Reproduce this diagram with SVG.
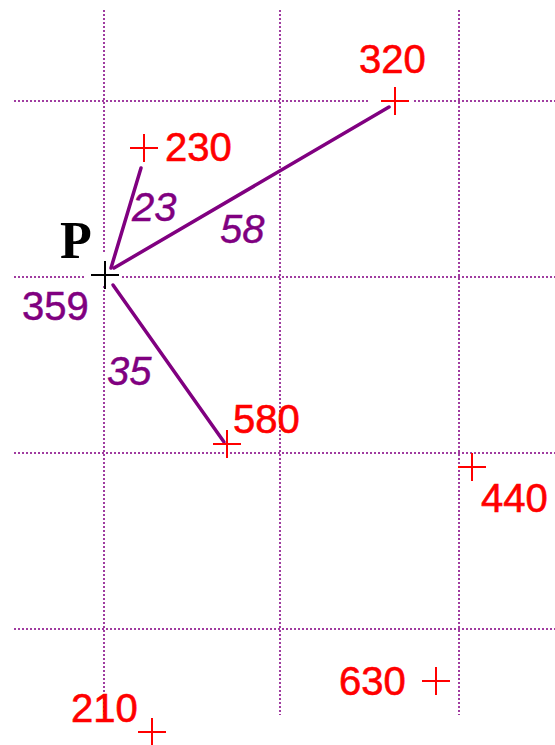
<svg xmlns="http://www.w3.org/2000/svg" width="555" height="745" viewBox="0 0 555 745">
<style>
.grid{stroke:#a03ca0;stroke-width:2;stroke-dasharray:2 2;fill:none}
.cross{stroke:#ff0000;stroke-width:2;fill:none}
.pcross{stroke:#000;stroke-width:2;fill:none}
.lbl{font-family:"Liberation Sans",Arial,sans-serif;font-size:40px;fill:#ff0000;stroke:#ff0000;stroke-width:0.6}
.dist{font-family:"Liberation Sans",Arial,sans-serif;font-size:40px;font-style:italic;fill:#800080;stroke:#800080;stroke-width:0.4}
.ang{font-family:"Liberation Sans",Arial,sans-serif;font-size:40px;fill:#800080;stroke:#800080;stroke-width:0.5}
.conn{stroke:#800080;stroke-width:3.5;fill:none;stroke-linecap:round}
</style>
<rect width="555" height="745" fill="#fff"/>
<g id="grid">
<line class="grid" x1="104" y1="10" x2="104" y2="715"/>
<line class="grid" x1="280" y1="10" x2="280" y2="715"/>
<line class="grid" x1="459" y1="10" x2="459" y2="715"/>
<line class="grid" x1="14" y1="101" x2="555" y2="101"/>
<line class="grid" x1="14" y1="277" x2="555" y2="277"/>
<line class="grid" x1="14" y1="453" x2="555" y2="453"/>
<line class="grid" x1="14" y1="629" x2="555" y2="629"/>
<rect x="84" y="254" width="36" height="31" fill="#fff"/>
<rect x="368" y="90" width="45" height="20" fill="#fff"/>
</g>
<g id="connectors">
<line class="conn" x1="111" y1="268" x2="141" y2="168"/>
<line class="conn" x1="114" y1="268" x2="389" y2="107"/>
<line class="conn" x1="113" y1="285" x2="224" y2="442"/>
</g>
<g id="P">
<path class="pcross" d="M91 275H119M105 261V289"/>
<text x="60" y="258" font-family="Liberation Serif,Times New Roman,serif" font-weight="bold" font-size="52">P</text>
<text class="ang" x="22" y="320">359</text>
</g>
<g id="n320">
<path class="cross" d="M381 101H409M395 87V115"/>
<text class="lbl" x="359" y="73">320</text>
</g>
<g id="n230">
<path class="cross" d="M130 148H158M144 134V162"/>
<text class="lbl" x="165" y="161">230</text>
</g>
<g id="n580">
<path class="cross" d="M213 444H241M227 430V458"/>
<text class="lbl" x="233" y="433">580</text>
</g>
<g id="n440">
<path class="cross" d="M458 467H486M472 453V481"/>
<text class="lbl" x="481" y="512">440</text>
</g>
<g id="n210">
<path class="cross" d="M138 732H166M152 718V746"/>
<text class="lbl" x="71" y="722">210</text>
</g>
<g id="n630">
<path class="cross" d="M422 681H450M436 667V695"/>
<text class="lbl" x="339" y="695">630</text>
</g>
<g id="labels">
<text class="dist" x="132" y="221">23</text>
<text class="dist" x="220" y="243">58</text>
<text class="dist" x="107" y="385">35</text>
</g>
</svg>
